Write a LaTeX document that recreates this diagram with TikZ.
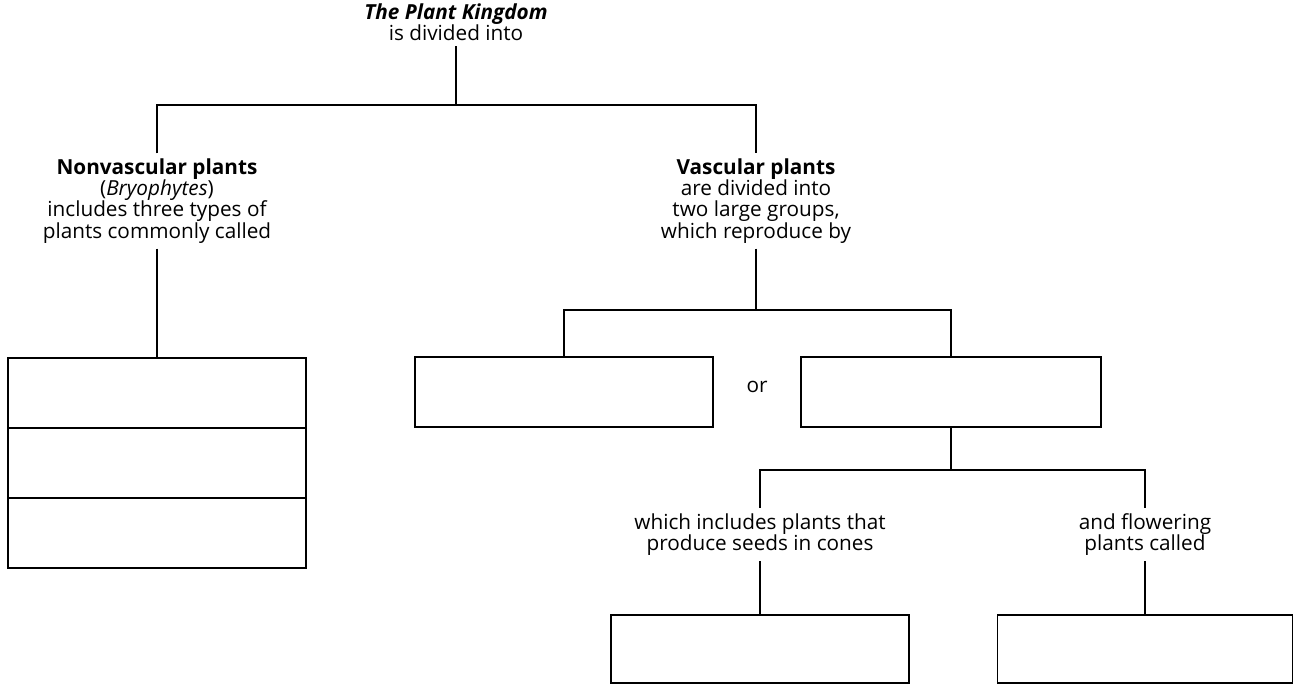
\documentclass[tikz,border=0pt]{standalone}
\usepackage{fontspec}
\setmainfont{Open Sans}
\usepackage{tikz}
\usetikzlibrary{positioning, calc}

\begin{document}
\begin{tikzpicture}[
          labelText/.style={align=center, inner sep=3pt, font=\fontsize{11.8}{12}\selectfont},
          blankBox/.style={rectangle, draw, line width=0.7pt, minimum width=5.96cm, minimum height=1.4cm, inner sep=0pt},
          link/.style={line width=0.7pt}
        ]
          \useasboundingbox (0,0) rectangle (26.02,-13.72);
          \node[labelText] (kingdom) at (9.12,-0.44) {\textbf{\textit{The Plant Kingdom}}\\is divided into};
          \node[labelText] (nonvasc) at (3.14,-4.02) {\textbf{Nonvascular plants}\\(\textit{Bryophytes})\\includes three types of\\plants commonly called};
          \node[labelText] (vasc) at (15.12,-4.02) {\textbf{Vascular plants}\\are divided into\\two large groups,\\which reproduce by};

          % three blank rows on the left
          \node[blankBox] (nvA) at (3.14,-7.86) {};
          \node[blankBox] (nvB) at (3.14,-9.26) {};
          \node[blankBox] (nvC) at (3.14,-10.66) {};

          \node[blankBox] (spores) at (11.28,-7.84) {};
          \node[labelText] (orWord) at (15.14,-7.74) {or};
          \node[blankBox, minimum width=6cm] (seeds) at (19.02,-7.84) {};

          \node[labelText] (cones) at (15.2,-10.69) {which includes plants that\\produce seeds in cones};
          \node[labelText] (flowering) at (22.9,-10.69) {and flowering\\plants called};
          \node[blankBox, minimum height=1.36cm] (gymno) at (15.2,-12.98) {};
          \node[blankBox, minimum height=1.36cm, minimum width=5.9cm] (angio) at (22.9,-12.98) {};

          \coordinate (topSplit) at (9.12,-2.1);
          \coordinate (vascSplit) at (15.12,-6.2);
          \coordinate (seedSplit) at (19.02,-9.4);

          \draw[link] (kingdom) -- (topSplit);
          \draw[link] (nonvasc.north) |- (topSplit) -| (vasc.north);
          \draw[link] (nonvasc) -- (nvA);
          \draw[link] (vasc) -- (vascSplit);
          \draw[link] (spores.north) |- (vascSplit) -| (seeds.north);
          \draw[link] (seeds) -- (seedSplit);
          \draw[link] (cones.north) |- (seedSplit) -| (flowering.north);
          \draw[link] (cones) -- (gymno);
          \draw[link] (flowering) -- (angio);
        \end{tikzpicture}
\end{document}
